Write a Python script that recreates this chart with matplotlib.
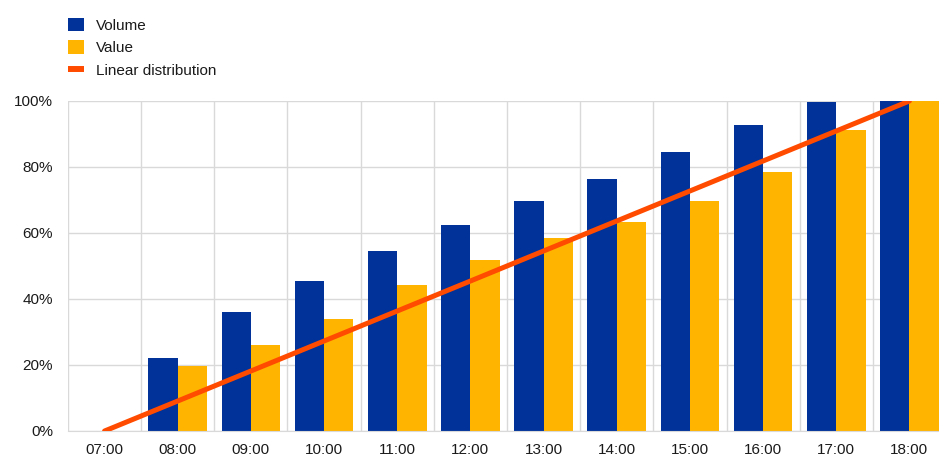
import matplotlib.pyplot as plt
from matplotlib.patches import Patch
from matplotlib.lines import Line2D
import numpy as np

plt.rcParams['font.family'] = ['Liberation Sans', 'DejaVu Sans']

hours = ['07:00', '08:00', '09:00', '10:00', '11:00', '12:00',
         '13:00', '14:00', '15:00', '16:00', '17:00', '18:00']
volume = [0, 22.1, 36.2, 45.5, 54.5, 62.4, 69.7, 76.3, 84.4, 92.7, 99.6, 100]
value = [0, 19.7, 26.1, 34.0, 44.2, 51.8, 58.5, 63.3, 69.7, 78.5, 91.2, 100]
linear = [0, 9.09, 18.18, 27.27, 36.36, 45.45, 54.55, 63.64, 72.73, 81.82, 90.91, 100]

blue = '#003299'
yellow = '#FFB400'
orange = '#FF4B00'

fig = plt.figure(figsize=(9.39, 4.57), dpi=100)
ax = fig.add_axes([68 / 939, 26 / 457, 878 / 939, 330 / 457])

x = np.arange(len(hours))
ax.bar(x - 0.2, volume, width=0.4, color=blue, zorder=2)
ax.bar(x + 0.2, value, width=0.4, color=yellow, zorder=2)
ax.plot(x, linear, color=orange, linewidth=3.6, solid_capstyle='round', zorder=3)

ax.set_xlim(-0.5, len(hours) - 0.5)
ax.set_ylim(0, 100)
ax.set_yticks(range(0, 101, 20))
ax.set_yticklabels([f'{v}%' for v in range(0, 101, 20)])
ax.set_xticks(x)
ax.set_xticklabels(hours)
ax.set_xticks(np.arange(-0.5, len(hours), 1), minor=True)

ax.grid(axis='y', color='#d9d9d9', linewidth=1, zorder=0)
ax.grid(axis='x', which='minor', color='#d9d9d9', linewidth=1, zorder=0)
ax.tick_params(axis='both', which='both', length=0, labelsize=11, colors='#1a1a1a')
ax.tick_params(axis='y', pad=10.8)
ax.tick_params(axis='x', pad=9)
for s in ['top', 'right', 'left']:
    ax.spines[s].set_visible(False)
ax.spines['bottom'].set_color('#d9d9d9')

handles = [Patch(facecolor=blue), Patch(facecolor=yellow),
           Line2D([], [], color=orange, linewidth=4.3, solid_capstyle='butt')]
leg = fig.legend(handles, ['Volume', 'Value', 'Linear distribution'],
                 loc='upper left', bbox_to_anchor=(68 / 939, 1 - 18 / 457),
                 frameon=False, fontsize=11, handlelength=1.05, handleheight=0.95,
                 handletextpad=0.8, labelspacing=0.5, borderpad=0, borderaxespad=0)
for t in leg.get_texts():
    t.set_color('#1a1a1a')

fig.savefig('out.png', dpi=100)
